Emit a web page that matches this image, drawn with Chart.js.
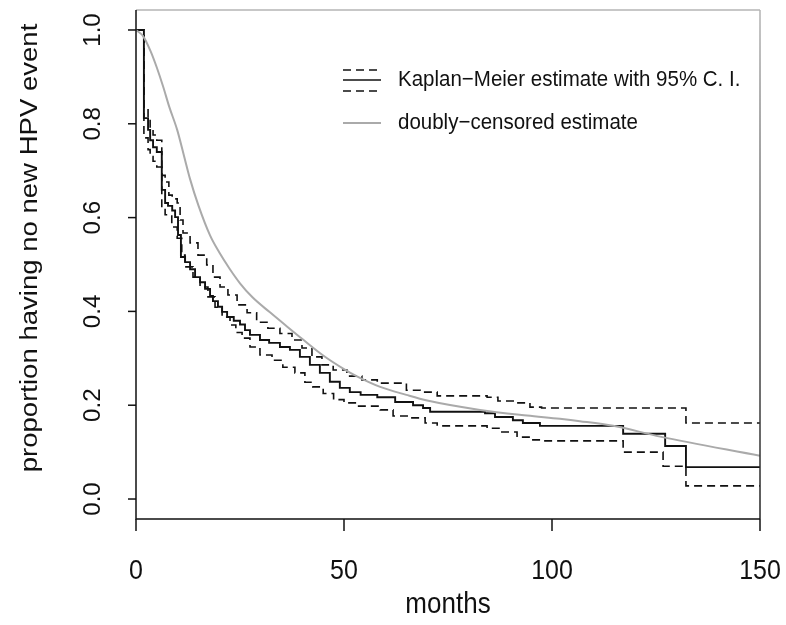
<!DOCTYPE html>
<html>
<head>
<meta charset="utf-8">
<script src="https://cdn.jsdelivr.net/npm/chart.js@4"></script>
<style>
html,body{margin:0;padding:0;background:#fff;}
#wrap{width:786px;height:625px;position:relative;}
</style>
</head>
<body>
<div id="wrap"><canvas id="c" width="786" height="625"></canvas></div>
<script>
// ---- data ----
const kmTimes = [0,1.9,2.9,3.4,4.1,5.0,6.2,7.0,7.7,8.7,9.4,10.1,10.8,11.8,13.0,14.2,15.4,16.6,17.8,18.5,19.7,20.7,21.9,23.5,25.0,26.2,27.4,29.8,32.0,34.6,37.0,39.4,41.8,44.2,46.6,49.0,51.4,54.0,58.0,62.3,66.6,69.0,70.7,83.9,86.3,90.6,93.0,97.1,117.1,127.2,132.2,150];
const kmSurv  = [1.0,0.812,0.787,0.765,0.75,0.74,0.659,0.631,0.625,0.615,0.601,0.563,0.516,0.505,0.49,0.473,0.462,0.448,0.433,0.422,0.41,0.399,0.388,0.38,0.372,0.36,0.35,0.339,0.333,0.324,0.318,0.303,0.286,0.269,0.25,0.237,0.228,0.222,0.217,0.207,0.2,0.194,0.186,0.183,0.175,0.168,0.162,0.156,0.139,0.113,0.068,0.068];

const upperTimes = [0,1.9,2.9,3.4,4.1,5.0,6.2,7.0,7.9,8.7,9.9,10.6,11.3,13.0,14.9,17.0,18.5,20.2,22.1,24.3,26.7,29.0,31.7,34.6,37.5,39.9,42.3,44.7,47.4,50.7,54.3,58.0,65.0,68.3,72.4,84.4,87.0,91.0,94.7,97.5,132.2,150];
const upperVals  = [1.0,0.834,0.81,0.79,0.776,0.765,0.69,0.676,0.648,0.64,0.631,0.595,0.567,0.546,0.52,0.499,0.473,0.452,0.435,0.414,0.397,0.377,0.364,0.353,0.339,0.322,0.303,0.286,0.275,0.262,0.254,0.247,0.232,0.228,0.22,0.217,0.209,0.205,0.196,0.194,0.162,0.162];

const lowerTimes = [0,1.9,2.9,3.4,4.1,5.0,6.2,7.0,8.6,9.9,11.0,11.8,13.7,15.4,17.3,19.0,20.7,22.6,24.0,25.5,27.4,29.8,32.7,35.3,38.2,40.6,42.5,45.0,47.5,50.0,53.0,58.7,61.8,65.9,69.5,72.4,84.4,87.5,91.6,94.7,97.8,117.1,126.7,132.2,150];
const lowerVals  = [1.0,0.77,0.745,0.73,0.72,0.708,0.62,0.606,0.58,0.556,0.52,0.495,0.473,0.452,0.431,0.409,0.388,0.371,0.355,0.343,0.324,0.307,0.296,0.281,0.269,0.249,0.239,0.225,0.212,0.205,0.198,0.19,0.177,0.173,0.162,0.156,0.151,0.143,0.132,0.126,0.124,0.1,0.07,0.028,0.028];

const dcTimes = [0,1.7,3.5,5.0,6.5,8.0,9.9,11.5,13.0,15.0,17.8,20.0,22.5,25.0,28.0,32.2,36.0,40.0,45.0,50.0,53.0,58.7,65.0,70.0,82.7,94.0,101.9,106.7,114.7,126.0,150];
const dcVals  = [1.0,0.987,0.955,0.92,0.88,0.836,0.787,0.733,0.682,0.626,0.562,0.526,0.491,0.46,0.43,0.398,0.37,0.341,0.306,0.277,0.262,0.239,0.222,0.21,0.19,0.178,0.171,0.166,0.156,0.133,0.092];

const xTickValues = [0,50,100,150];
const xTickLabels = ['0','50','100','150'];
const yTickValues = [0,0.2,0.4,0.6,0.8,1.0];
const yTickLabels = ['0.0','0.2','0.4','0.6','0.8','1.0'];

const xTitle = 'months';
const yTitle = 'proportion having no new HPV event';
const legendKM = 'Kaplan\u2212Meier estimate with 95% C. I.';
const legendDC = 'doubly\u2212censored estimate';

const pts = (xs, ys) => xs.map((x, i) => ({x: x, y: ys[i]}));
const FONT = '"Liberation Sans", Arial, Helvetica, sans-serif';
const DASH = [8, 5];

function hText(ctx, txt, x, y, size, sy, align) {
  ctx.save();
  ctx.font = size + 'px ' + FONT;
  ctx.textAlign = align || 'center'; ctx.textBaseline = 'middle';
  ctx.translate(x, y); ctx.scale(1, sy);
  ctx.fillText(txt, 0, 0);
  ctx.restore();
}
function vText(ctx, txt, x, y, size, sLen, sThick) {
  ctx.save();
  ctx.font = size + 'px ' + FONT;
  ctx.textAlign = 'center'; ctx.textBaseline = 'middle';
  ctx.translate(x, y); ctx.rotate(-Math.PI / 2); ctx.scale(sLen, sThick);
  ctx.fillText(txt, 0, 0);
  ctx.restore();
}

const decor = {
  id: 'decor',
  afterDraw(chart) {
    const ctx = chart.ctx, a = chart.chartArea;
    const xs = chart.scales.x, ys = chart.scales.y;
    ctx.save();
    // box: top/right lighter
    ctx.lineWidth = 1.5;
    ctx.strokeStyle = '#b4b4b4';
    ctx.beginPath(); ctx.moveTo(a.left, a.top); ctx.lineTo(a.right, a.top); ctx.stroke();
    const g = ctx.createLinearGradient(0, a.top, 0, a.bottom);
    g.addColorStop(0, '#b4b4b4'); g.addColorStop(0.55, '#555'); g.addColorStop(1, '#222');
    ctx.strokeStyle = g;
    ctx.beginPath(); ctx.moveTo(a.right, a.top); ctx.lineTo(a.right, a.bottom); ctx.stroke();
    ctx.strokeStyle = '#111';
    ctx.beginPath(); ctx.moveTo(a.left, a.top); ctx.lineTo(a.left, a.bottom); ctx.lineTo(a.right, a.bottom); ctx.stroke();

    ctx.fillStyle = '#111';
    // y ticks and labels
    yTickValues.forEach((v, i) => {
      const y = ys.getPixelForValue(v);
      ctx.beginPath(); ctx.moveTo(a.left, y); ctx.lineTo(a.left - 8, y); ctx.stroke();
      vText(ctx, yTickLabels[i], 93, y, 23, 1.05, 1.05);
    });
    // x ticks and labels
    xTickValues.forEach((v, i) => {
      const x = xs.getPixelForValue(v);
      ctx.beginPath(); ctx.moveTo(x, a.bottom); ctx.lineTo(x, a.bottom + 12); ctx.stroke();
      hText(ctx, xTickLabels[i], x, 571, 25, 1.12);
    });
    // titles
    hText(ctx, xTitle, (a.left + a.right) / 2, 605, 26, 1.1);
    vText(ctx, yTitle, 30, 248, 27, 1.02, 0.92);

    // legend
    const lx0 = 343, lx1 = 381;
    ctx.lineWidth = 1.6; ctx.strokeStyle = '#111';
    ctx.setLineDash(DASH);
    ctx.beginPath(); ctx.moveTo(lx0, 70); ctx.lineTo(lx1, 70); ctx.stroke();
    ctx.beginPath(); ctx.moveTo(lx0, 91); ctx.lineTo(lx1, 91); ctx.stroke();
    ctx.setLineDash([]);
    ctx.beginPath(); ctx.moveTo(lx0, 80); ctx.lineTo(lx1, 80); ctx.stroke();
    ctx.strokeStyle = '#aaaaaa'; ctx.lineWidth = 2;
    ctx.beginPath(); ctx.moveTo(lx0, 123); ctx.lineTo(lx1, 123); ctx.stroke();
    hText(ctx, legendKM, 398, 80, 20.5, 1.08, 'left');
    hText(ctx, legendDC, 398, 123, 20.5, 1.08, 'left');
    ctx.restore();
  }
};

new Chart(document.getElementById('c'), {
  type: 'line',
  data: {
    datasets: [
      {label: 'doubly-censored', data: pts(dcTimes, dcVals), borderColor: '#aaaaaa', borderWidth: 2, pointRadius: 0, cubicInterpolationMode: 'monotone', fill: false},
      {label: 'KM', data: pts(kmTimes, kmSurv), borderColor: '#111', borderWidth: 1.9, pointRadius: 0, stepped: 'before', fill: false},
      {label: 'upper', data: pts(upperTimes, upperVals), borderColor: '#111', borderWidth: 1.6, borderDash: DASH, pointRadius: 0, stepped: 'before', fill: false},
      {label: 'lower', data: pts(lowerTimes, lowerVals), borderColor: '#111', borderWidth: 1.6, borderDash: DASH, pointRadius: 0, stepped: 'before', fill: false}
    ]
  },
  options: {
    responsive: false,
    animation: false,
    events: [],
    layout: {padding: {left: 0, top: 10, right: 26, bottom: 0}},
    plugins: {legend: {display: false}, tooltip: {enabled: false}},
    scales: {
      x: {
        type: 'linear', min: 0, max: 150,
        grid: {display: false}, border: {display: false},
        ticks: {display: false},
        afterFit(s) { s.height = 106; }
      },
      y: {
        type: 'linear', min: -0.0426, max: 1.0426,
        grid: {display: false}, border: {display: false},
        ticks: {display: false},
        afterFit(s) { s.width = 136; }
      }
    }
  },
  plugins: [decor]
});
</script>
</body>
</html>
